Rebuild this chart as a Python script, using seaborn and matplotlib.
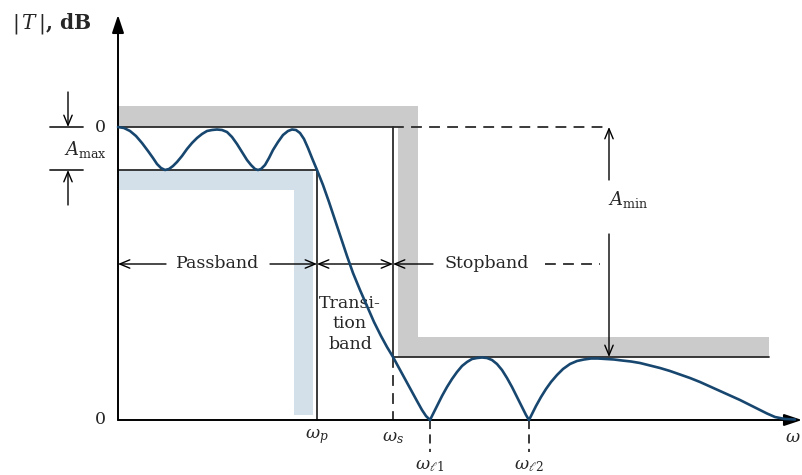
import numpy as np
import matplotlib
matplotlib.use("Agg")
import matplotlib.pyplot as plt
import seaborn as sns

sns.set_style("white")
plt.rcParams['font.family'] = ['DejaVu Serif']
plt.rcParams['mathtext.fontset'] = 'dejavuserif'

# frequency response (x from origin, y height above the 0 axis)
freq = [0, 6, 12, 18, 24, 30, 35, 39, 43, 47, 51, 55, 59, 64, 69, 74, 79, 84, 89, 94,
        99, 104, 109, 114, 119, 124, 129, 133, 137, 140, 143, 147, 151, 155, 160, 165,
        170, 174, 178, 182, 186, 190, 194, 199, 205, 211, 217, 223, 229, 235, 242, 249,
        256, 263, 269, 275, 281, 287, 293, 299, 304, 308, 312, 315, 319, 324, 329, 334,
        339, 344, 349, 354, 359, 364, 369, 374, 379, 384, 389, 394, 399, 404, 408, 411,
        414, 418, 423, 428, 433, 439, 445, 452, 459, 466, 473, 480, 488, 496, 504, 513,
        522, 532, 542, 552, 562, 572, 582, 592, 602, 612, 622, 632, 642, 649, 657, 667,
        677]
gain = [293, 292, 289, 284, 277, 269, 262, 256, 252, 250, 251, 254, 258, 264, 271, 277,
        282, 286, 289, 290, 290.5, 290, 288, 283, 276, 268, 260, 255, 251, 250, 251, 255,
        262, 270, 278, 285, 289, 290.5, 290, 287, 281, 272, 262, 250, 235, 218, 200, 182,
        164, 147, 130, 114, 98, 84, 73, 63, 52, 41, 30, 19, 10, 4, 0, 6, 14, 24, 33, 41,
        48, 54, 58, 61, 62, 62.5, 62, 60, 56, 50, 42, 33, 23, 13, 5, 0, 6, 14, 23, 31, 38,
        45, 51, 56, 59, 60.5, 61.5, 61.5, 61, 60.5, 59.5, 58.5, 57, 54.5, 52, 49, 45.5,
        42, 38, 33.5, 29, 24.5, 20, 15, 10, 6.5, 3, 1, 0.5]

# specification levels and edge frequencies
level_0db = 293
level_amax = 250
level_stop = 63
w_p = 199
w_s = 275
w_l1 = 312
w_l2 = 411
w_end = 651

line_c = '#2b2b2b'
gray_c = '#cbcbcb'
blue_c = '#d4e0e9'
curve_c = '#17466f'

fig = plt.figure(figsize=(8.02, 4.75), dpi=100)
ax = fig.add_axes([0, 0, 1, 1])
ax.set_xlim(-118, 684)
ax.set_ylim(-55, 420)
ax.axis('off')

# shaded stopband (gray) and passband (blue) limits
ax.fill([0, w_s + 25, w_s + 25, w_end, w_end, w_s + 5, w_s + 5, 0],
        [level_0db + 21, level_0db + 21, level_stop + 20, level_stop + 20,
         level_stop, level_stop, level_0db, level_0db], color=gray_c, lw=0, zorder=1)
ax.fill([0, w_p - 4, w_p - 4, w_p - 23, w_p - 23, 0],
        [level_amax, level_amax, 5, 5, level_amax - 20, level_amax - 20],
        color=blue_c, lw=0, zorder=1)

# spec lines
kw = dict(color=line_c, lw=1.3, zorder=2)
ax.plot([0, w_s], [level_0db, level_0db], **kw)
ax.plot([w_s, 490], [level_0db, level_0db], ls=(0, (6, 4)), **kw)
ax.plot([0, w_p], [level_amax, level_amax], **kw)
ax.plot([w_p, w_p], [level_amax, 0], **kw)
ax.plot([w_s, w_s], [level_0db, level_stop], **kw)
ax.plot([w_s, w_s], [level_stop, 0], ls=(0, (6, 4)), **kw)
ax.plot([w_s, w_end], [level_stop, level_stop], **kw)
ax.plot([-68, -35], [level_0db, level_0db], **kw)
ax.plot([-68, -35], [level_amax, level_amax], **kw)
for w in (w_l1, w_l2):
    ax.plot([w, w], [0, -32], ls=(0, (5, 3)), **kw)

# axes with arrows
ax.annotate("", xy=(0, 405), xytext=(0, 0),
            arrowprops=dict(arrowstyle='-|>,head_width=0.3,head_length=0.9', color='k',
                            lw=1.4, shrinkA=0, shrinkB=0, mutation_scale=12), zorder=3)
ax.annotate("", xy=(684, 0), xytext=(0, 0),
            arrowprops=dict(arrowstyle='-|>,head_width=0.3,head_length=0.9', color='k',
                            lw=1.4, shrinkA=0, shrinkB=0, mutation_scale=12), zorder=3)

def arrow(tail, tip, style='->'):
    ax.annotate("", xy=tip, xytext=tail,
                arrowprops=dict(arrowstyle=style + ',head_width=0.25,head_length=0.6',
                                color='k', lw=1.0, shrinkA=0, shrinkB=0,
                                mutation_scale=12), zorder=3)

# A_max marker
arrow((-50, 328), (-50, level_0db))
arrow((-50, 215), (-50, level_amax))
# A_min marker
arrow((491, 240), (491, level_0db))
arrow((491, 186), (491, level_stop))

# band arrows
yb = 156
arrow((48, yb), (0, yb))
arrow((152, yb), (w_p, yb))
arrow((w_p, yb), (w_s, yb), style='<->')
arrow((315, yb), (w_s, yb))
ax.plot([427, 482], [yb, yb], ls=(0, (6, 4)), **kw)

# response curve
sns.lineplot(x=freq, y=gain, color=curve_c, lw=1.9, ax=ax, zorder=4)

# text
fs = 12.5
ax.text(-106, 397, r"$|\,T\,|$, dB", fontsize=14.5, fontweight='bold', ha='left',
        va='center')
ax.text(-12, level_0db, "0", fontsize=fs, ha='right', va='center')
ax.text(-12, 0, "0", fontsize=fs, ha='right', va='center')
ax.text(-11, 271, r"$A_{\mathrm{max}}$", fontsize=13, ha='right', va='center')
ax.text(510, 220, r"$A_{\mathrm{min}}$", fontsize=13, ha='center', va='center')
ax.text(100, yb, "Passband", fontsize=fs, ha='center', va='center')
ax.text(369, yb, "Stopband", fontsize=fs, ha='center', va='center')
ax.text(232, 96, "Transi-\ntion\nband", fontsize=fs, ha='center', va='center',
        linespacing=1.25)
ax.text(w_p, -17, r"$\omega_p$", fontsize=fs, ha='center', va='center')
ax.text(w_s, -17, r"$\omega_s$", fontsize=fs, ha='center', va='center')
ax.text(w_l1, -45, r"$\omega_{\ell 1}$", fontsize=fs, ha='center', va='center')
ax.text(w_l2, -45, r"$\omega_{\ell 2}$", fontsize=fs, ha='center', va='center')
ax.text(683, -17, r"$\omega$", fontsize=fs, ha='right', va='center')

fig.savefig("out.png", dpi=100)
